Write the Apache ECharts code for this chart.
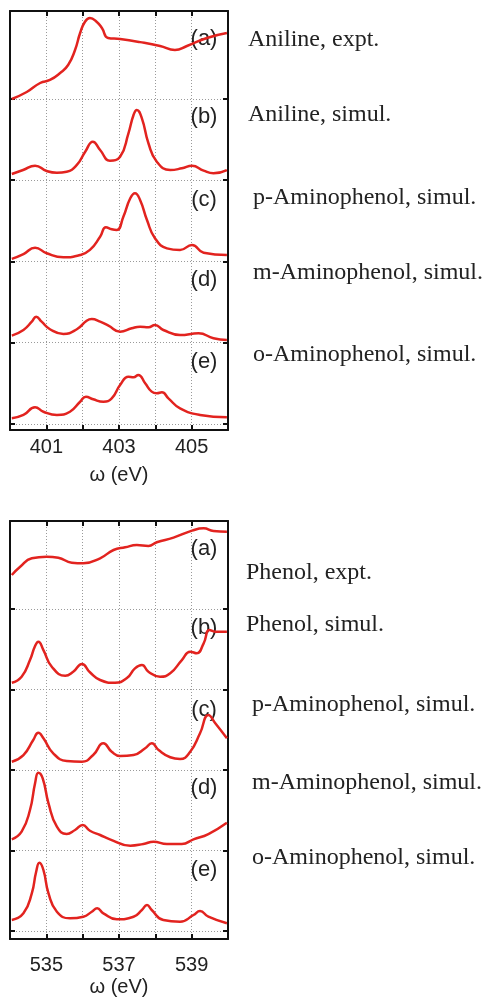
<!DOCTYPE html>
<html>
<head>
<meta charset="utf-8">
<script src="https://cdn.jsdelivr.net/npm/echarts@6/dist/echarts.min.js"></script>
<style>
  html, body { margin: 0; padding: 0; background: #fff; }
  #main { width: 489px; height: 1001px; }
</style>
</head>
<body>
<div id="main"></div>
<script>
// N 1s edge (top panel): curves stacked one unit apart, [energy eV, intensity + offset]
var nAnilineExpt = [[400.05,4.0],[400.46,4.086],[400.83,4.197],[401.10,4.234],[401.38,4.32],[401.60,4.418],
  [401.79,4.603],[401.93,4.812],[402.06,4.948],[402.20,4.997],[402.39,4.948],[402.53,4.874],[402.70,4.751],
  [403.03,4.738],[403.58,4.70],[404.13,4.652],[404.54,4.603],[404.87,4.652],[405.42,4.751],[405.97,4.812]];
var nAnilineSim = [[400.05,3.077],[400.36,3.126],[400.69,3.179],[401.01,3.114],[401.29,3.093],[401.56,3.105],
  [401.84,3.188],[402.07,3.351],[402.28,3.474],[402.48,3.372],[402.75,3.241],[403.03,3.29],[403.26,3.578],
  [403.40,3.803],[403.49,3.865],[403.63,3.762],[403.81,3.455],[404.04,3.228],[404.41,3.126],[404.73,3.147],
  [405.01,3.179],[405.33,3.118],[405.60,3.086],[405.97,3.126]];
var nParaSim = [[400.05,2.033],[400.37,2.092],[400.69,2.17],[401.01,2.101],[401.47,2.052],[401.93,2.08],
  [402.20,2.142],[402.48,2.305],[402.64,2.421],[402.80,2.396],[402.94,2.388],[403.12,2.551],[403.31,2.778],
  [403.44,2.84],[403.58,2.757],[403.77,2.511],[403.99,2.286],[404.32,2.162],[404.68,2.142],[405.01,2.203],
  [405.33,2.108],[405.97,2.08]];
var nMetaSim = [[400.05,1.087],[400.37,1.157],[400.60,1.259],[400.72,1.321],[400.87,1.259],[401.10,1.166],
  [401.47,1.108],[401.84,1.166],[402.11,1.271],[402.25,1.292],[402.48,1.259],[402.71,1.21],[403.03,1.136],
  [403.35,1.178],[403.58,1.198],[403.81,1.19],[403.99,1.218],[404.22,1.157],[404.68,1.095],[405.19,1.116],
  [405.60,1.055],[405.97,1.034]];
var nOrthoSim = [[400.05,0.07],[400.37,0.111],[400.69,0.206],[400.92,0.151],[401.29,0.111],[401.65,0.151],
  [401.93,0.274],[402.09,0.336],[402.29,0.304],[402.57,0.274],[402.80,0.316],[403.03,0.48],[403.26,0.582],
  [403.40,0.575],[403.53,0.603],[403.72,0.501],[403.90,0.398],[404.04,0.378],[404.18,0.39],[404.36,0.316],
  [404.68,0.193],[405.23,0.111],[405.97,0.082]];

// O 1s edge (bottom panel)
var oPhenolExpt = [[534.05,4.422],[534.28,4.525],[534.60,4.63],[535.01,4.65],[535.33,4.637],[535.70,4.575],
  [536.02,4.568],[536.48,4.63],[536.85,4.733],[537.17,4.766],[537.49,4.795],[537.81,4.783],[538.04,4.829],
  [538.50,4.886],[539.01,4.973],[539.33,5.002],[539.60,4.969],[539.97,4.96]];
var oPhenolSim = [[534.05,3.084],[534.32,3.159],[534.55,3.366],[534.69,3.54],[534.78,3.594],[534.92,3.49],
  [535.15,3.283],[535.52,3.171],[535.74,3.221],[535.98,3.317],[536.20,3.214],[536.48,3.118],[536.89,3.084],
  [537.21,3.139],[537.44,3.263],[537.63,3.304],[537.81,3.221],[538.13,3.159],[538.41,3.201],[538.73,3.366],
  [538.96,3.47],[539.14,3.45],[539.33,3.574],[539.49,3.739],[539.65,3.718],[539.97,3.718]];
var oParaSim = [[534.05,2.103],[534.37,2.186],[534.64,2.373],[534.78,2.463],[534.92,2.394],[535.19,2.207],
  [535.56,2.112],[535.98,2.103],[536.29,2.186],[536.57,2.332],[536.80,2.227],[537.03,2.174],[537.40,2.186],
  [537.72,2.27],[537.90,2.332],[538.09,2.248],[538.41,2.158],[538.68,2.137],[538.96,2.227],[539.23,2.456],
  [539.46,2.683],[539.65,2.58],[539.97,2.394]];
var oMetaSim = [[534.05,1.139],[534.32,1.234],[534.55,1.503],[534.69,1.835],[534.78,1.966],[534.90,1.897],
  [535.06,1.586],[535.29,1.296],[535.56,1.205],[535.79,1.255],[536.00,1.317],[536.20,1.246],[536.48,1.193],
  [536.75,1.139],[537.31,1.06],[537.67,1.081],[537.95,1.109],[538.32,1.081],[538.73,1.081],[539.05,1.139],
  [539.46,1.205],[539.97,1.345]];
var oOrthoSim = [[534.05,0.137],[534.37,0.22],[534.60,0.468],[534.72,0.737],[534.81,0.848],[534.92,0.758],
  [535.06,0.468],[535.29,0.24],[535.65,0.158],[536.02,0.178],[536.25,0.24],[536.40,0.282],[536.57,0.22],
  [536.94,0.145],[537.40,0.178],[537.63,0.261],[537.77,0.323],[537.90,0.261],[538.22,0.137],[538.68,0.116],
  [539.05,0.199],[539.23,0.248],[539.46,0.178],[539.97,0.096]];

var nTickLabels = [401, 403, 405];
var oTickLabels = [535, 537, 539];
var stackLevels = [0, 1, 2, 3, 4];
var panelTags = ['(a)', '(b)', '(c)', '(d)', '(e)'];
var nNames = ['Aniline, expt.', 'Aniline, simul.', 'p-Aminophenol, simul.', 'm-Aminophenol, simul.', 'o-Aminophenol, simul.'];
var oNames = ['Phenol, expt.', 'Phenol, simul.', 'p-Aminophenol, simul.', 'm-Aminophenol, simul.', 'o-Aminophenol, simul.'];

var RED = '#e2231f';
var frame = { show: true, onZero: false, lineStyle: { color: '#111', width: 2 } };
var tick = { show: true, inside: true, length: 5, lineStyle: { color: '#111', width: 2 } };
var dotted = { show: true, lineStyle: { color: '#9a9a9a', type: [1, 2], width: 1 } };

function xAxes(gridIndex, min, max, labels, labelMargin, nameGap) {
  return [{
    type: 'value', gridIndex: gridIndex, position: 'bottom', min: min, max: max, interval: 1,
    axisLine: frame, axisTick: tick, splitLine: dotted,
    axisLabel: {
      margin: labelMargin, fontSize: 20, color: '#222', fontFamily: 'Liberation Sans, Arial, sans-serif',
      formatter: function (v) { return labels.indexOf(v) >= 0 ? String(v) : ''; }
    },
    name: '\u03c9 (eV)', nameLocation: 'middle', nameGap: nameGap,
    nameTextStyle: { fontSize: 20, color: '#222', fontFamily: 'Liberation Sans, Arial, sans-serif' }
  }, {
    type: 'value', gridIndex: gridIndex, position: 'top', min: min, max: max, interval: 1,
    axisLine: frame, axisTick: tick, axisLabel: { show: false }, splitLine: { show: false }
  }];
}

function yAxes(gridIndex, min, max) {
  var t = Object.assign({}, tick, { customValues: stackLevels });
  return [{
    type: 'value', gridIndex: gridIndex, position: 'left', min: min, max: max,
    axisLine: frame, axisTick: t, axisLabel: { show: false }, splitLine: dotted
  }, {
    type: 'value', gridIndex: gridIndex, position: 'right', min: min, max: max,
    axisLine: frame, axisTick: t, axisLabel: { show: false }, splitLine: { show: false }
  }];
}

function line(data, xi, yi) {
  return {
    type: 'line', data: data, xAxisIndex: xi, yAxisIndex: yi, smooth: 0.5,
    showSymbol: false, symbol: 'none', silent: true,
    lineStyle: { color: RED, width: 2.5 }
  };
}

var chart = echarts.init(document.getElementById('main'), null, { renderer: 'canvas' });

var tagFont = '22px "Liberation Sans", Arial, sans-serif';
var nameFont = '24px "Liberation Serif", "Times New Roman", serif';
var graphics = [];
var nTagY = [39, 117, 200, 280, 362], oTagY = [549, 628, 710, 788, 870];
var nNameY = [40, 115, 198, 273, 355], oNameY = [573, 625, 705, 783, 858];
var nNameX = [248, 248, 253, 253, 253], oNameX = [246, 246, 252, 252, 252];
panelTags.forEach(function (t, i) {
  graphics.push({ type: 'text', x: 204, y: nTagY[i], style: { text: t, font: tagFont, fill: '#222', align: 'center', verticalAlign: 'middle' } });
  graphics.push({ type: 'text', x: 204, y: oTagY[i], style: { text: t, font: tagFont, fill: '#222', align: 'center', verticalAlign: 'middle' } });
});
nNames.forEach(function (t, i) {
  graphics.push({ type: 'text', x: nNameX[i], y: nNameY[i], style: { text: t, font: nameFont, fill: '#222', align: 'left', verticalAlign: 'middle' } });
});
oNames.forEach(function (t, i) {
  graphics.push({ type: 'text', x: oNameX[i], y: oNameY[i], style: { text: t, font: nameFont, fill: '#222', align: 'left', verticalAlign: 'middle' } });
});

var option = {
  animation: false,
  backgroundColor: '#fff',
  grid: [
    { left: 10, top: 11, width: 218, height: 419, outerBoundsMode: 'none' },
    { left: 10, top: 521, width: 218, height: 418, outerBoundsMode: 'none' }
  ],
  xAxis: xAxes(0, 400, 406, nTickLabels, 7, 35).concat(xAxes(1, 534, 540, oTickLabels, 16, 38)),
  yAxis: yAxes(0, -0.074, 5.083).concat(yAxes(1, -0.099, 5.093)),
  series: [
    line(nAnilineExpt, 0, 0), line(nAnilineSim, 0, 0), line(nParaSim, 0, 0), line(nMetaSim, 0, 0), line(nOrthoSim, 0, 0),
    line(oPhenolExpt, 2, 2), line(oPhenolSim, 2, 2), line(oParaSim, 2, 2), line(oMetaSim, 2, 2), line(oOrthoSim, 2, 2)
  ],
  graphic: graphics
};
chart.setOption(option);
</script>
</body>
</html>
